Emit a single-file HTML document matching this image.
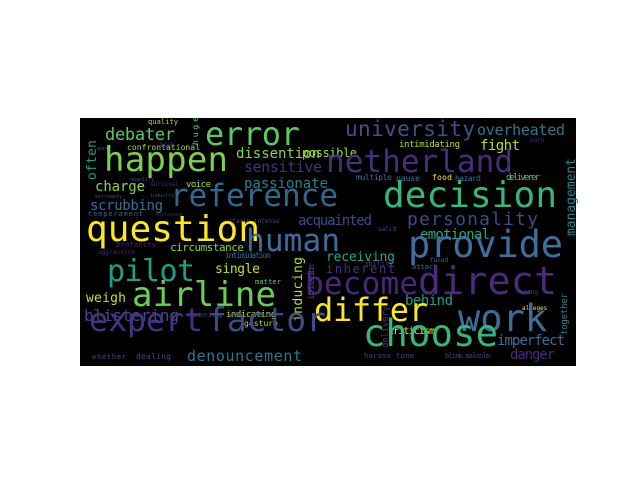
<!DOCTYPE html>
<html><head><meta charset="utf-8"><style>
html,body{margin:0;padding:0;background:#fff;width:640px;height:480px;overflow:hidden}
svg text{font-family:"DejaVu Sans Mono","Liberation Mono",monospace}
</style></head><body>
<svg width="640" height="480" viewBox="0 0 640 480">
<rect x="80" y="118" width="496" height="248" fill="#000"/>
<g>
<text x="148" y="124" font-size="7" fill="#b5de2b" textLength="30">quality</text>
<text x="188" y="150" font-size="8" fill="#b5de2b" textLength="73" transform="translate(-61,0)">confrontational</text>
<text x="112" y="150" font-size="5" fill="#3e4a89" transform="translate(-15,0)">gone</text>
<text x="240" y="147" font-size="6" fill="#3e4a89" transform="translate(-80,0)">book</text>
<text x="130" y="181" font-size="5" fill="#3e4a89">quantify</text>
<text x="186" y="187" font-size="9" fill="#b5de2b" textLength="25">voice</text>
<text x="150" y="186" font-size="6" fill="#46337e">survival</text>
<text x="150" y="197" font-size="5" fill="#3e4a89">industry</text>
<text x="88" y="216" font-size="7" fill="#31688e" textLength="55">temperament</text>
<text x="95" y="198" font-size="5" fill="#3e4a89">extremely</text>
<text x="155" y="216" font-size="5" fill="#482878">sustained</text>
<text x="225" y="223" font-size="6" fill="#3e4a89">vitamin intense</text>
<text x="116" y="247" font-size="7" fill="#482878" textLength="40">profanity</text>
<text x="98" y="254" font-size="6" fill="#482878" textLength="37">aggressive</text>
<text x="225" y="258" font-size="8" fill="#31688e" textLength="46">intimidation</text>
<text x="255" y="284" font-size="7" fill="#6ccd5a" textLength="26">matter</text>
<text x="188" y="317" font-size="7" fill="#3e4a89" textLength="34">meaning</text>
<text x="226" y="317" font-size="9" fill="#b5de2b" textLength="50">indicating</text>
<text x="244" y="326" font-size="8" fill="#b5de2b" textLength="34">gesture</text>
<text x="92" y="359" font-size="7" fill="#3e4a89" textLength="34">whether</text>
<text x="136" y="359" font-size="8" fill="#3e4a89" textLength="35">dealing</text>
<text x="356" y="180" font-size="8" fill="#3e6e9c" textLength="36">multiple</text>
<text x="396" y="181" font-size="8" fill="#3e6e9c" textLength="24">pause</text>
<text x="432" y="180" font-size="8" fill="#fde725" textLength="20">food</text>
<text x="455" y="181" font-size="8" fill="#3e6e9c" textLength="26">hazard</text>
<text x="506" y="180" font-size="9" fill="#52c569" textLength="34">deliverer</text>
<text x="399" y="147" font-size="9" fill="#b5de2b" textLength="61">intimidating</text>
<text x="530" y="142" font-size="6" fill="#482878">bark</text>
<text x="430" y="262" font-size="6" fill="#31688e">faced</text>
<text x="412" y="269" font-size="7" fill="#3e6e9c">attack</text>
<text x="364" y="358" font-size="7" fill="#3e4a89" textLength="50">harass tone</text>
<text x="445" y="358" font-size="7" fill="#3e4a89" textLength="45">blink malcolm</text>
<text x="364" y="266" font-size="7" fill="#46337e">ability</text>
<text x="520" y="294" font-size="6" fill="#3e4a89">among</text>
<text x="522" y="310" font-size="6" fill="#fde725">alleges</text>
<text x="378" y="231" font-size="6" fill="#3e4a89">valid</text>
<text x="0" y="0" font-size="13" fill="#1f9e89" textLength="40" transform="translate(96,180) rotate(-90)">often</text>
<text x="0" y="0" font-size="13" fill="#26828e" textLength="78" transform="translate(575,236) rotate(-90)">management</text>
<text x="0" y="0" font-size="13" fill="#b5de2b" textLength="65" transform="translate(302,322) rotate(-90)">inducing</text>
<text x="0" y="0" font-size="9" fill="#46337e" textLength="42" transform="translate(388,348) rotate(-90)">delivery</text>
<text x="0" y="0" font-size="9" fill="#26828e" textLength="42" transform="translate(567,335) rotate(-90)">together</text>
<text x="0" y="0" font-size="9" fill="#3e4a89" textLength="36" transform="translate(314,300) rotate(-90)">irritation</text>
<text x="0" y="0" font-size="8" fill="#6ccd5a" textLength="28" transform="translate(198,145) rotate(-90)">huge</text>
<text x="105" y="140" font-size="17" fill="#5ec962" textLength="70">debater</text>
<text x="345" y="136" font-size="21" fill="#3b528b" textLength="130">university</text>
<text x="477" y="135" font-size="15" fill="#2a788e" textLength="88">overheated</text>
<text x="302" y="157" font-size="12" fill="#a0da39" textLength="55">possible</text>
<text x="236" y="158" font-size="14" fill="#86d549" textLength="84">dissention</text>
<text x="480" y="150" font-size="14" fill="#b5de2b" textLength="40">fight</text>
<text x="244" y="172" font-size="15" fill="#46337e" textLength="78">sensitive</text>
<text x="244" y="188" font-size="14" fill="#26828e" textLength="84">passionate</text>
<text x="95" y="191" font-size="14" fill="#86d549" textLength="50">charge</text>
<text x="90" y="210" font-size="14" fill="#3e6e9c" textLength="73">scrubbing</text>
<text x="298" y="225" font-size="14" fill="#3e4a89" textLength="74">acquainted</text>
<text x="407" y="225" font-size="18" fill="#3e4a89" textLength="131">personality</text>
<text x="420" y="239" font-size="14" fill="#22a884" textLength="70">emotional</text>
<text x="170" y="251" font-size="11" fill="#86d549" textLength="74">circumstance</text>
<text x="326" y="261" font-size="13" fill="#22a884" textLength="69">receiving</text>
<text x="326" y="273" font-size="12" fill="#46337e" textLength="69">inherent</text>
<text x="215" y="273" font-size="13" fill="#c8e020" textLength="45">single</text>
<text x="86" y="302" font-size="13" fill="#c8e020" textLength="40">weigh</text>
<text x="84" y="321" font-size="16" fill="#3e4a89" textLength="95">blistering</text>
<text x="405" y="305" font-size="14" fill="#1f9e89" textLength="48">behind</text>
<text x="388" y="334" font-size="10" fill="#fde725" textLength="47">criticism</text>
<text x="497" y="345" font-size="14" fill="#3e6e9c" textLength="68">imperfect</text>
<text x="510" y="359" font-size="14" fill="#482878" textLength="45">danger</text>
<text x="187" y="361" font-size="15" fill="#2a788e" textLength="115">denouncement</text>
<text x="205" y="145" font-size="32" fill="#5ec962" textLength="95">error</text>
<text x="104" y="171" font-size="34" fill="#7ad151" textLength="124">happen</text>
<text x="326" y="172" font-size="31" fill="#472d7b" textLength="187">netherland</text>
<text x="170" y="206" font-size="31" fill="#31688e" textLength="168">reference</text>
<text x="383" y="207" font-size="36" fill="#35b779" textLength="174">decision</text>
<text x="86" y="241" font-size="36" fill="#fde725" textLength="174">question</text>
<text x="246" y="251" font-size="31" fill="#3b6e9c" textLength="94">human</text>
<text x="408" y="257" font-size="37" fill="#3e6e9c" textLength="155">provide</text>
<text x="107" y="281" font-size="30" fill="#1f9e89" textLength="88">pilot</text>
<text x="132" y="306" font-size="34" fill="#6ccd5a" textLength="144">airline</text>
<text x="305" y="294" font-size="31" fill="#482878" textLength="113">become</text>
<text x="418" y="294" font-size="38" fill="#4b2a7f" textLength="139">direct</text>
<text x="314" y="321" font-size="32" fill="#fde725" textLength="114">differ</text>
<text x="458" y="331" font-size="37" fill="#3b6e9c" textLength="89">work</text>
<text x="89" y="331" font-size="32" fill="#46327e" textLength="114">expert</text>
<text x="207" y="331" font-size="33" fill="#3e4c8a" textLength="119">factor</text>
<text x="363" y="346" font-size="37" fill="#35b779" textLength="135">choose</text>
</g>
</svg>
</body></html>
